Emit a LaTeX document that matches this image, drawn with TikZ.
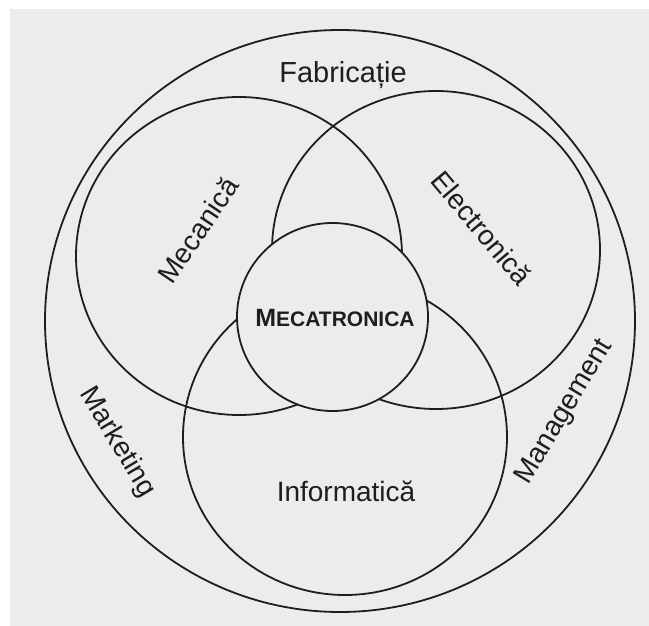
\documentclass[tikz,border=0pt]{standalone}
\usepackage{fontspec}
\setmainfont{Liberation Sans}
\definecolor{paper}{RGB}{236,236,236}
\definecolor{ink}{RGB}{30,30,30}
\begin{document}
\begin{tikzpicture}[x=1pt,y=-1pt,
  ring/.style={draw=ink, line width=1.8pt},
  lbl/.style={text=ink, inner sep=0pt, font=\fontsize{28}{28}\selectfont}]
  % page
  \fill[paper] (0,0) rectangle (649,626);
  \fill[white] (0,0) rectangle (649,9);
  \fill[white] (0,0) rectangle (10,626);
  \useasboundingbox (0,0) rectangle (649,626);

  % three overlapping disciplines
  \draw[ring] (239,256) ellipse [x radius=163, y radius=159];
  \draw[ring] (436,250) ellipse [x radius=164, y radius=159];
  \draw[ring] (345,437) ellipse [x radius=162, y radius=158];

  % core and the enclosing domain
  \draw[ring, fill=paper] (332.5,317) ellipse [x radius=95.5, y radius=94];
  \draw[ring] (340,321) ellipse [x radius=295, y radius=291];

  % labels
  \node[lbl, anchor=base, font=\fontsize{29}{29}\selectfont] (fab) at (343,83) {Fabricație};
  \node[lbl, anchor=base, font=\bfseries] (mec) at (335,326)
    {{\fontsize{25}{25}\selectfont M}{\fontsize{21}{21}\selectfont ECATRONICA}};
  \node[lbl, anchor=base] (inf) at (346,501) {Informatică};
  \node[lbl, rotate=56] (mca) at (198,230) {Mecanică};
  \node[lbl, rotate=-50] (ele) at (482,228) {Electronică};
  \node[lbl, rotate=-59] (mkt) at (117,442) {Marketing};
  \node[lbl, rotate=59] (mgt) at (565,412) {Management};
\end{tikzpicture}
\end{document}
